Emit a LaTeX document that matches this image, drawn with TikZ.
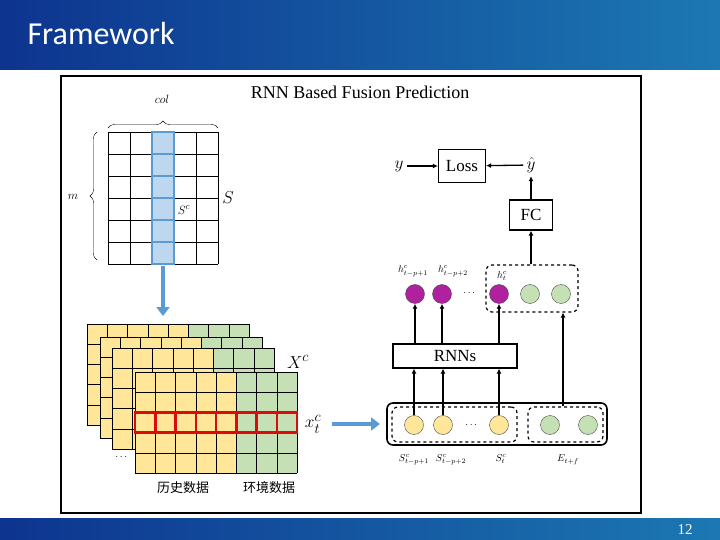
\documentclass[tikz,border=0pt]{standalone}
\usepackage{amsmath, amssymb}
\usepackage{fontspec}
\setmainfont{Liberation Serif}
\newfontfamily\titlefont{Carlito}
\newfontfamily\cjk{Noto Sans CJK SC}
\usepackage{tikz}
\usetikzlibrary{shapes, arrows, arrows.meta, positioning, calc, decorations.pathreplacing}

\definecolor{bannerL}{RGB}{13,52,143}
\definecolor{bannerR}{RGB}{28,120,178}
\definecolor{histY}{RGB}{255,230,153}
\definecolor{envG}{RGB}{197,224,180}
\definecolor{colB}{RGB}{189,215,238}
\definecolor{colE}{RGB}{91,155,213}
\definecolor{rowR}{RGB}{220,10,10}
\definecolor{hidP}{RGB}{176,33,159}

\begin{document}
\begin{tikzpicture}[x=1pt, y=-1pt,
    box/.style={draw, line width=1.2pt, inner sep=0pt},
    unit/.style={circle, draw=black!70, minimum size=19pt, inner sep=0pt},
    dashbox/.style={draw, line width=1.2pt, dashed, rounded corners=6pt, inner sep=0pt},
    lab/.style={inner sep=0pt, font=\fontsize{10}{10}\selectfont},
    flow/.style={-{Latex[length=5pt, width=5pt]}, line width=1.3pt},
    bigarrow/.style={colE, line width=4.5pt, -{Triangle[length=9pt, width=13pt]}}]
    \useasboundingbox (0,0) rectangle (720,540);
    % banners
    \shade[left color=bannerL, right color=bannerR] (0,0) rectangle (720,70);
    \shade[left color=bannerL, right color=bannerR] (0,518) rectangle (720,540);
    \node[anchor=west, text=white, font=\titlefont\fontsize{32}{34}\selectfont] (title) at (24,34) {Framework};
    \node[text=white, font=\fontsize{15}{15}\selectfont] (page) at (685,530) {12};
    \draw[line width=1.8pt] (61,76) rectangle (641,513);
    \node[font=\fontsize{18}{20}\selectfont] (head) at (360,92) {RNN Based Fusion Prediction};

    % matrix S
    \foreach \i in {0,...,5}
        \draw (108+\i*22,132) -- ++(0,132);
    \foreach \j in {0,...,6}
        \draw (108,132+\j*22) -- ++(110,0);
    \foreach \j in {0,...,5}
        \draw[colE, line width=2.5pt, fill=colB] (152,132+\j*22) rectangle ++(22,22);
    \draw[decorate, decoration={brace, amplitude=7pt}] (108,128) -- (218,128);
    \draw[decorate, decoration={brace, amplitude=7pt}] (97,260) -- (97,132);
    \node[font=\fontsize{13}{13}\selectfont] (colname) at (162,99) {$col$};
    \node[font=\fontsize{13}{13}\selectfont] (mname) at (73,197) {$m$};
    \node[font=\fontsize{19}{19}\selectfont] (S) at (228,198) {$S$};
    \node[font=\fontsize{13}{13}\selectfont] (Sc) at (184,210) {$S^c$};
    \coordinate (colbot) at (163,266);
    \coordinate (stacktop) at (163,316);
    \draw[bigarrow] (colbot) -- (stacktop);

    % stack X^c
    \foreach \lx/\ly in {87/324,100/337,112/348,135/372} {
        \fill[histY] (\lx,\ly) rectangle ++(101.25,101);
        \fill[envG] (\lx+101.25,\ly) rectangle ++(60.75,101);
        \foreach \i in {0,...,8}
            \draw (\lx+\i*20.25,\ly) -- ++(0,101);
        \foreach \j in {0,...,5}
            \draw (\lx,\ly+\j*20.2) -- ++(162,0);
    }
    \foreach \i in {0,...,7}
        \draw[rowR, line width=2.5pt] (135+\i*20.25,412.4) rectangle ++(20.25,20.2);
    \node[font=\fontsize{19}{19}\selectfont] (X) at (298,362) {$X^c$};
    \node[font=\fontsize{19}{19}\selectfont] (xt) at (313,424) {$x_t^c$};
    \node (sdots) at (122,457) {$\cdots$};
    \node[font=\cjk\fontsize{13}{13}\selectfont] (hist) at (183,488) {历史数据};
    \node[font=\cjk\fontsize{13}{13}\selectfont] (env) at (269,488) {环境数据};
    \coordinate (xtout) at (332,424);
    \coordinate (xtin) at (380,424);
    \draw[bigarrow] (xtout) -- (xtin);

    % inputs
    \node[draw, line width=1.6pt, rounded corners=6pt, minimum width=220pt, minimum height=42pt] (inbox) at (497,424) {};
    \node[dashbox, minimum width=125pt, minimum height=35pt] (dbox1) at (454.5,424.5) {};
    \node[dashbox, minimum width=75pt, minimum height=35pt] (dbox2) at (565.5,424.5) {};
    \node[unit, fill=histY] (in1) at (414,425) {};
    \node[unit, fill=histY] (in2) at (443,425) {};
    \node[unit, fill=histY] (in3) at (499,425) {};
    \node (indots) at (472,425) {$\cdots$};
    \node[unit, fill=envG] (env1) at (550,425) {};
    \node[unit, fill=envG] (env2) at (588,425) {};
    \node[lab] (ls1) at (414,460) {$S^c_{t-p+1}$};
    \node[lab] (ls2) at (451,460) {$S^c_{t-p+2}$};
    \node[lab] (ls3) at (501,459) {$S^c_t$};
    \node[lab] (lE) at (568,460) {$E_{t+f}$};

    % RNNs
    \node[box, minimum width=124pt, minimum height=24pt, font=\fontsize{17}{17}\selectfont] (rnn) at (455,356) {RNNs};
    \foreach \n in {in1,in2,in3}
        \draw[flow] (\n) -- (\n |- rnn.south);

    % hidden states
    \node[dashbox, minimum width=92pt, minimum height=47pt] (hbox) at (532,288.5) {};
    \node[unit, fill=hidP] (h1) at (415,294) {};
    \node[unit, fill=hidP] (h2) at (442,294) {};
    \node[unit, fill=hidP] (h3) at (499,294) {};
    \node (hdots) at (470,293) {$\cdots$};
    \node[unit, fill=envG] (g1) at (530,294) {};
    \node[unit, fill=envG] (g2) at (561,294) {};
    \node[lab] (lh1) at (413,271) {$h^c_{t-p+1}$};
    \node[lab] (lh2) at (453,271) {$h^c_{t-p+2}$};
    \node[lab] (lh3) at (502,276) {$h^c_t$};
    \foreach \n in {h1,h2,h3}
        \draw[flow] (\n |- rnn.north) -- (\n);
    \draw[flow] ([xshift=-2.5pt]dbox2.north) -- ([xshift=-2.5pt]dbox2.north |- hbox.south);

    % output
    \node[box, minimum width=43pt, minimum height=30pt, font=\fontsize{17}{17}\selectfont] (fc) at (531,215) {FC};
    \node[font=\fontsize{18}{18}\selectfont] (yhat) at (531,165) {$\hat{y}$};
    \node[box, minimum width=47pt, minimum height=33pt, font=\fontsize{17}{17}\selectfont] (loss) at (462,166) {Loss};
    \node[font=\fontsize{18}{18}\selectfont] (y) at (399,166) {$y$};
    \draw[flow] (hbox.north -| fc) -- (fc.south);
    \draw[flow] (fc) -- (yhat);
    \draw[flow] (yhat) -- (loss);
    \draw[flow] (y) -- (loss);
\end{tikzpicture}
\end{document}
